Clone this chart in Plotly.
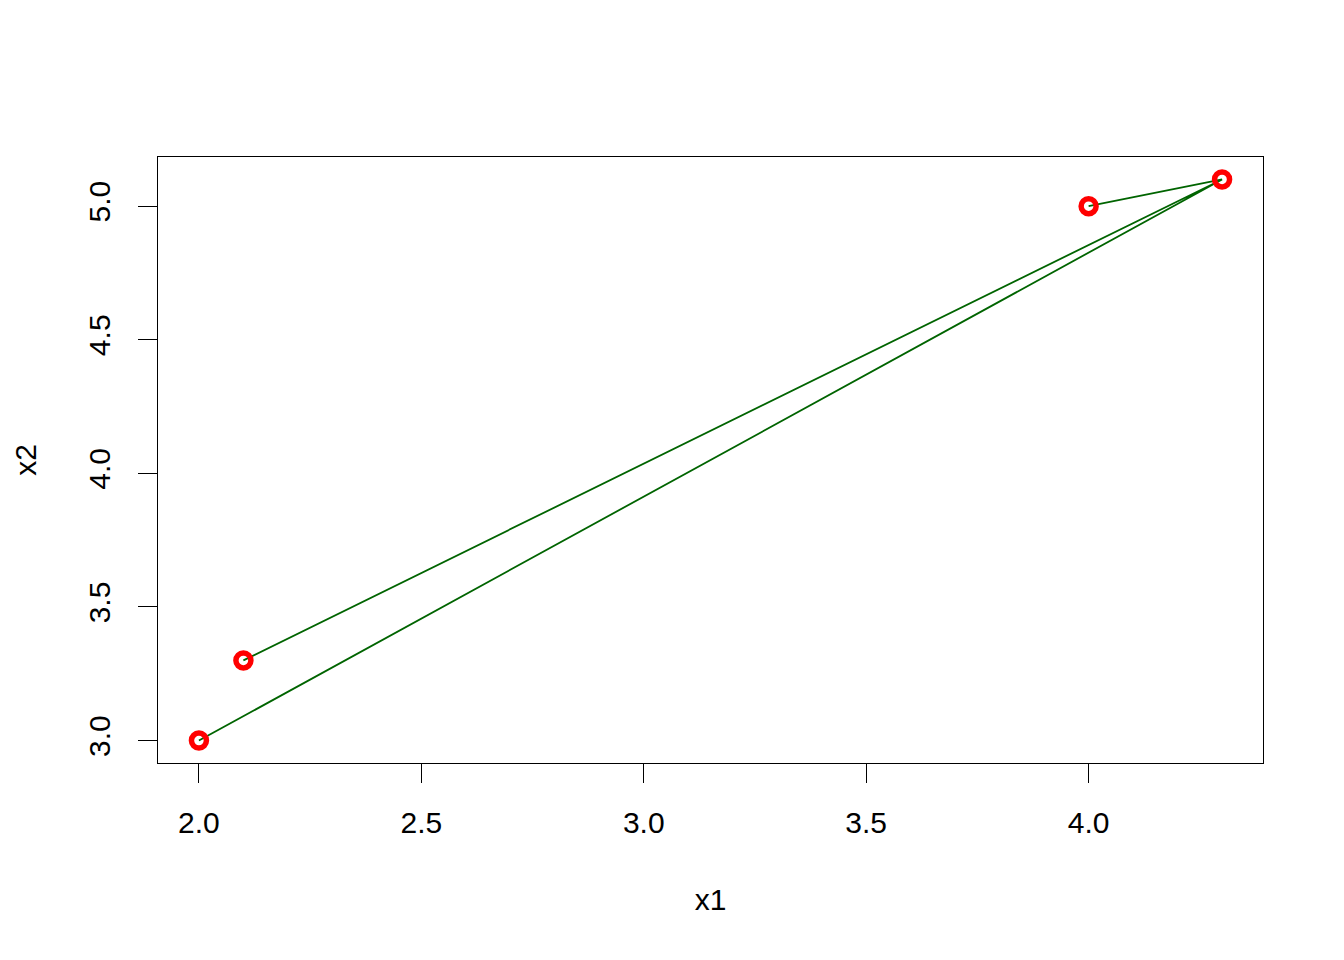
import plotly.graph_objects as go

# points
x1 = [2.0, 2.1, 4.0, 4.3]
x2 = [3.0, 3.3, 5.0, 5.1]

# every point is joined to the last one (4.3, 5.1)
path = [0, 3, 1, 3, 2]
line_x = [x1[i] for i in path]
line_y = [x2[i] for i in path]

x_ticks = [2.0, 2.5, 3.0, 3.5, 4.0]
y_ticks = [3.0, 3.5, 4.0, 4.5, 5.0]

fig = go.Figure()

fig.add_trace(go.Scatter(
    x=line_x, y=line_y, mode='lines',
    line=dict(color='#006400', width=1.8),
    hoverinfo='skip'
))

fig.add_trace(go.Scatter(
    x=x1, y=x2, mode='markers',
    marker=dict(symbol='circle-open', size=15, color='red', line=dict(color='red', width=5.5))
))

pad_x = (max(x1) - min(x1)) * 0.04
pad_y = (max(x2) - min(x2)) * 0.04

axis_style = dict(
    showgrid=False, zeroline=False, showline=True, mirror=True,
    linecolor='black', linewidth=1.3,
    ticks='outside', ticklen=19, tickwidth=1.3, tickcolor='black',
    tickfont=dict(family='Liberation Sans, Arial', size=30, color='black'),
    title_font=dict(family='Liberation Sans, Arial', size=30, color='black'),
)

fig.update_xaxes(
    range=[min(x1) - pad_x, max(x1) + pad_x],
    tickvals=x_ticks, ticktext=['%.1f' % v for v in x_ticks],
    title_text='x1', title_standoff=50, ticklabelstandoff=14,
    **axis_style
)
fig.update_yaxes(
    range=[min(x2) - pad_y, max(x2) + pad_y],
    tickvals=y_ticks, ticktext=['%.1f' % v for v in y_ticks],
    tickangle=-90,
    title_text='x2', title_standoff=37, ticklabelstandoff=16,
    **axis_style
)

fig.update_layout(
    width=1344, height=960,
    margin=dict(l=150, r=89, t=149, b=205),
    plot_bgcolor='white', paper_bgcolor='white',
    showlegend=False,
)

fig.write_html("out.html")
